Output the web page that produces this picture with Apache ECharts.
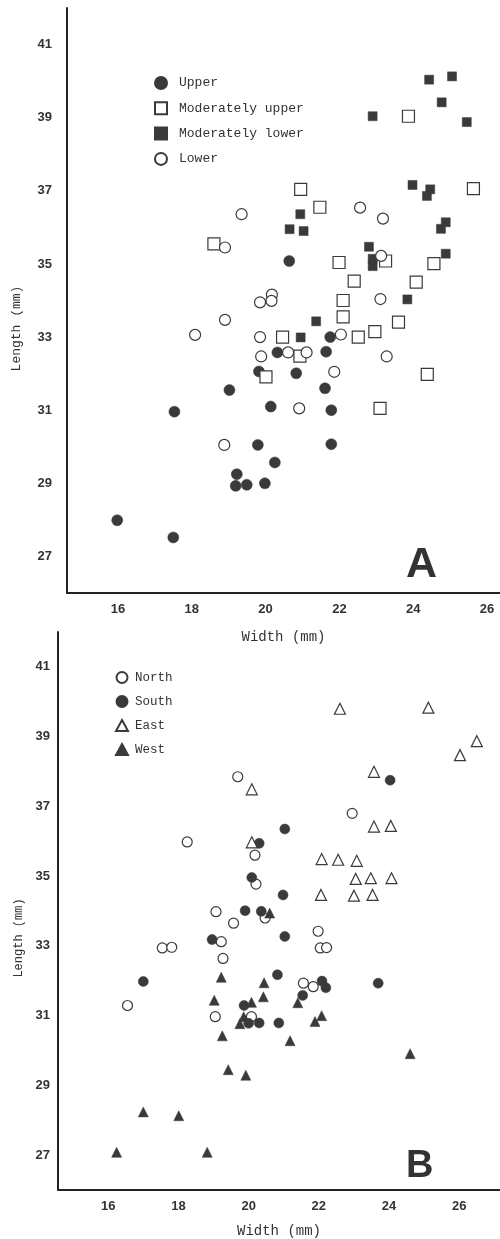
<!DOCTYPE html>
<html><head><meta charset="utf-8">
<script src="https://cdn.jsdelivr.net/npm/echarts@6/dist/echarts.min.js"></script>
<style>html,body{margin:0;padding:0;background:#fff}#c{width:500px;height:1239px}</style>
</head><body><div id="c"></div>
<script>
// Panel A: [width, length] in mm
const aUpper = [[20.64,35.08],[21.75,33.0],[20.32,32.58],[21.64,32.6],[19.82,32.06],[20.83,32.01],[19.02,31.55],[21.61,31.6],[17.53,30.96],[20.14,31.1],[21.78,31.0],[19.79,30.05],[21.78,30.07],[20.25,29.57],[19.22,29.25],[19.19,28.93],[19.49,28.96],[19.98,29.0],[15.98,27.99],[17.5,27.52]];
const aModUpper = [[23.87,39.04],[25.63,37.06],[20.95,37.04],[21.47,36.55],[18.6,35.55],[21.99,35.04],[23.25,35.08],[24.56,35.01],[22.4,34.53],[24.08,34.5],[22.1,34.0],[22.1,33.55],[23.6,33.41],[22.96,33.15],[22.51,33.0],[20.46,33.0],[20.93,32.48],[20.01,31.91],[24.38,31.98],[23.1,31.05]];
const aModLower = [[24.43,40.04],[25.05,40.13],[24.77,39.42],[22.9,39.04],[25.45,38.88],[23.98,37.16],[24.46,37.04],[24.37,36.86],[20.94,36.36],[20.65,35.95],[21.03,35.9],[24.88,36.14],[24.75,35.96],[22.8,35.47],[22.9,35.14],[22.9,34.94],[24.88,35.28],[23.84,34.03],[21.37,33.43],[20.95,32.99]];
const aLower = [[19.35,36.36],[22.56,36.54],[23.18,36.24],[18.9,35.45],[23.13,35.22],[19.85,33.95],[20.17,34.16],[20.16,33.99],[23.11,34.04],[18.9,33.47],[18.09,33.06],[19.85,33.0],[22.04,33.07],[19.88,32.47],[20.61,32.58],[21.11,32.58],[23.28,32.47],[21.86,32.05],[20.91,31.05],[18.88,30.05]];
// Panel B
const bNorth = [[19.69,37.85],[22.95,36.8],[18.25,35.98],[20.18,35.6],[20.21,34.77],[19.07,33.98],[19.57,33.65],[20.47,33.8],[21.98,33.42],[19.22,33.12],[17.54,32.94],[17.81,32.96],[22.04,32.94],[22.22,32.95],[19.27,32.64],[21.56,31.93],[21.84,31.83],[16.55,31.29],[19.05,30.97],[20.08,30.97]];
const bSouth = [[24.03,37.75],[21.03,36.35],[20.3,35.94],[20.09,34.96],[20.98,34.46],[19.9,34.01],[20.36,33.99],[21.03,33.27],[18.96,33.18],[20.82,32.17],[17.0,31.98],[22.09,31.99],[22.2,31.8],[23.69,31.93],[21.54,31.58],[19.87,31.29],[20.0,30.78],[20.3,30.79],[20.86,30.79]];
const bEast = [[22.6,39.8],[25.12,39.83],[26.5,38.87],[26.02,38.47],[23.57,37.99],[20.09,37.49],[23.57,36.42],[24.05,36.44],[20.09,35.97],[22.08,35.49],[22.55,35.47],[23.08,35.44],[23.05,34.92],[23.48,34.94],[24.07,34.94],[22.06,34.46],[23.0,34.44],[23.53,34.46]];
const bWest = [[20.6,33.94],[19.22,32.1],[20.44,31.94],[20.42,31.54],[19.02,31.44],[20.08,31.38],[21.4,31.37],[19.86,30.97],[19.75,30.77],[22.08,31.0],[21.89,30.83],[19.25,30.42],[21.18,30.28],[24.6,29.91],[19.42,29.45],[19.92,29.29],[17.0,28.24],[18.01,28.13],[16.24,27.08],[18.82,27.08]];
// Tick labels
const xTicks = [16,18,20,22,24,26];
const yTicks = [27,29,31,33,35,37,39,41];

const INK = '#333';
const mono = '"Liberation Mono","DejaVu Sans Mono",monospace';
const sans = '"Liberation Sans",Arial,sans-serif';

function xAx(gi, min, max, nameGap){
  return {gridIndex:gi, type:'value', min:min, max:max, name:'Width (mm)', nameLocation:'middle', nameGap:nameGap,
    nameTextStyle:{fontFamily:mono, fontSize:14, color:INK},
    axisLine:{show:true, onZero:false, lineStyle:{color:'#222', width:2}},
    axisTick:{show:false}, splitLine:{show:false},
    axisLabel:{customValues:xTicks, fontFamily:sans, fontWeight:'bold', fontSize:13, color:INK, margin:10}};
}
function yAx(gi, margin, nameGap, fs, pad){
  return {gridIndex:gi, type:'value', min:26, max:42, name:'Length (mm)', nameLocation:'middle', nameGap:nameGap,
    nameTextStyle:{fontFamily:mono, fontSize:fs, color:INK, padding:pad},
    axisLine:{show:true, onZero:false, lineStyle:{color:'#222', width:2}},
    axisTick:{show:false}, splitLine:{show:false},
    axisLabel:{customValues:yTicks, fontFamily:sans, fontWeight:'bold', fontSize:13, color:INK, margin:margin}};
}
function ser(name, data, xi, symbol, size, filled){
  return {name:name, type:'scatter', xAxisIndex:xi, yAxisIndex:xi, data:data, symbol:symbol, symbolSize:size,
    itemStyle:{color: filled ? '#3a3a3a' : '#fff', borderColor:'#3a3a3a', borderWidth: filled ? 0.5 : 1.2, opacity:1}};
}

const chart = echarts.init(document.getElementById('c'));
chart.setOption({
  animation:false,
  backgroundColor:'#fff',
  grid:[
    {left:67, top:8, right:0, height:585, containLabel:false, outerBoundsMode:'none'},
    {left:58, top:632, right:0, height:558, containLabel:false, outerBoundsMode:'none'}
  ],
  xAxis:[xAx(0, 14.62, 26.35, 37), xAx(1, 14.57, 27.16, 34)],
  yAxis:[yAx(0, 15, 44, 13, [0,56,0,0]), yAx(1, 8, 22, 12, [0,54,0,0])],
  legend:[
    {data:['Upper','Moderately upper','Moderately lower','Lower'], orient:'vertical', left:154, top:76, padding:0,
     itemWidth:12, itemHeight:12, itemGap:11.3, textStyle:{fontFamily:mono, fontSize:13, color:INK, padding:[0,0,0,7]}},
    {data:['North','South','East','West'], orient:'vertical', left:115, top:671, padding:0,
     itemWidth:12, itemHeight:11, itemGap:11, textStyle:{fontFamily:mono, fontSize:12.5, color:INK, padding:[0,0,0,2]}}
  ],
  graphic:[
    {type:'text', left:406, top:544, style:{text:'A', font:'bold 43px "Liberation Sans",Arial,sans-serif', fill:'#333'}},
    {type:'text', left:406, top:1148, style:{text:'B', font:'bold 38px "Liberation Sans",Arial,sans-serif', fill:'#333'}}
  ],
  series:[
    ser('Upper', aUpper, 0, 'circle', 11, true),
    ser('Moderately upper', aModUpper, 0, 'rect', 12, false),
    ser('Moderately lower', aModLower, 0, 'rect', 9, true),
    ser('Lower', aLower, 0, 'circle', 11, false),
    ser('North', bNorth, 1, 'circle', 10, false),
    ser('South', bSouth, 1, 'circle', 10, true),
    ser('East', bEast, 1, 'triangle', 11, false),
    ser('West', bWest, 1, 'triangle', 10, true)
  ]
});
</script></body></html>
